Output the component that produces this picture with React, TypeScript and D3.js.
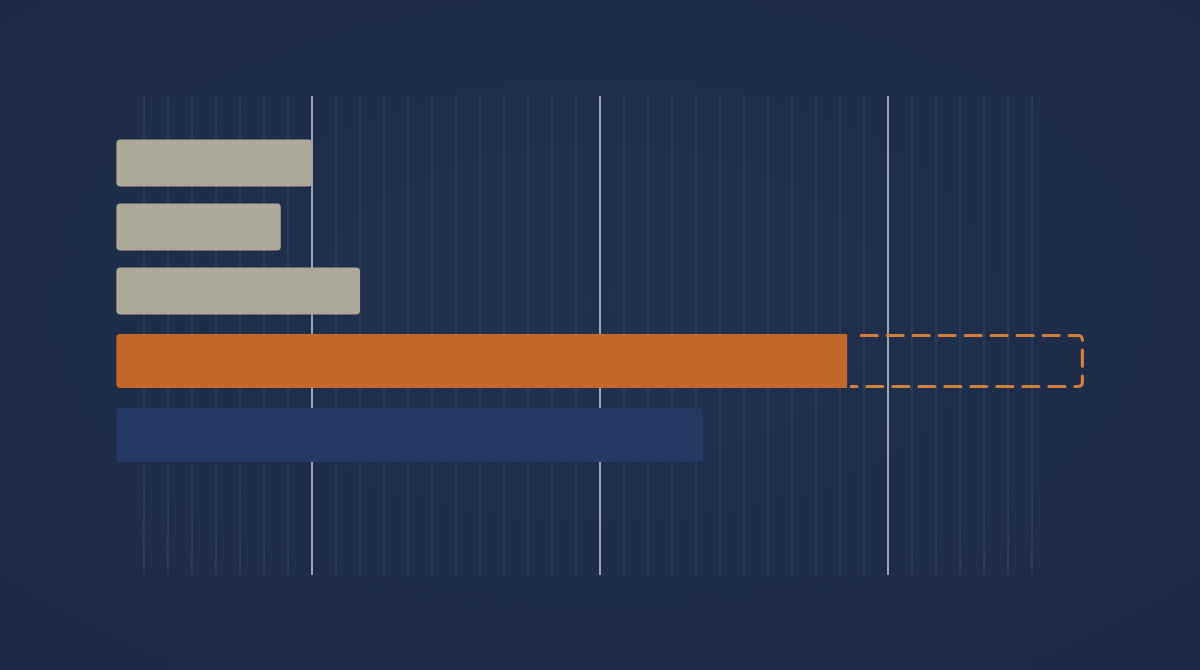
import React from 'react';
import * as d3 from 'd3';

// Time axis in months, grid every month, heavy line every year
const gridMonths = d3.range(5, 43);
const yearMarks = [12, 24, 36];

// Reference rows (gray)
const refLabels = ['Baseline A', 'Baseline B', 'Baseline C'];
const refStart = [3.85, 3.85, 3.85];
const refEnd = [12.0, 10.7, 14.0];

// Focus rows: actual (orange, with projected extension) and comparison (blue)
const focusLabels = ['Actual', 'Comparison'];
const focusStart = [3.85, 3.85];
const focusEnd = [34.3, 28.3];
const projectedEnd = 44.1;

const W = 1200;
const H = 670;

const App: React.FC = () => {
  const x = d3.scaleLinear().domain([0, 48]).range([24, 1176]);

  const yRef = d3.scaleBand<string>()
    .domain(refLabels)
    .range([131, 323])
    .paddingInner(0.266)
    .paddingOuter(0.133);

  const yFocus = d3.scaleBand<string>()
    .domain(focusLabels)
    .range([324, 472])
    .paddingInner(0.27)
    .paddingOuter(0.135);

  const gridTop = 96;
  const gridBottom = 575;

  // bar with rounded left side, square right side
  const leftRounded = (x0: number, x1: number, y0: number, h: number, r: number) => {
    const p = d3.path();
    p.moveTo(x0 + r, y0);
    p.lineTo(x1, y0);
    p.lineTo(x1, y0 + h);
    p.lineTo(x0 + r, y0 + h);
    p.arcTo(x0, y0 + h, x0, y0 + h - r, r);
    p.lineTo(x0, y0 + r);
    p.arcTo(x0, y0, x0 + r, y0, r);
    p.closePath();
    return p.toString();
  };

  // open outline (no left side) for the projected part
  const openOutline = (x0: number, x1: number, y0: number, y1: number, r: number) => {
    const p = d3.path();
    p.moveTo(x0, y0);
    p.lineTo(x1 - r, y0);
    p.arcTo(x1, y0, x1, y0 + r, r);
    p.lineTo(x1, y1 - r);
    p.arcTo(x1, y1, x1 - r, y1, r);
    p.lineTo(x0, y1);
    return p.toString();
  };

  const orangeY = yFocus(focusLabels[0]) || 0;
  const bwF = yFocus.bandwidth();

  return (
    <div style={{ position: 'fixed', left: 0, top: 0, width: W, height: H }}>
      <svg width={W} height={H} style={{ display: 'block' }}>
        <defs>
          <radialGradient id="bgGrad" cx="50%" cy="45%" r="75%">
            <stop offset="0%" stopColor="#20304f" />
            <stop offset="100%" stopColor="#1d2a44" />
          </radialGradient>
        </defs>
        <rect width={W} height={H} fill="url(#bgGrad)" />

        {/* minor grid */}
        <g>
          {gridMonths.filter(m => !yearMarks.includes(m)).map(m => (
            <line key={m} x1={x(m)} x2={x(m)} y1={gridTop} y2={gridBottom}
              stroke="#3b4b6b" strokeWidth={1} />
          ))}
        </g>
        {/* major grid */}
        <g>
          {yearMarks.map(m => (
            <line key={m} x1={x(m)} x2={x(m)} y1={gridTop} y2={gridBottom}
              stroke="#c9cdd6" strokeWidth={1.5} />
          ))}
        </g>

        {/* reference bars */}
        <g>
          {refLabels.map((l, i) => (
            <rect key={l}
              x={x(refStart[i])} y={yRef(l)}
              width={x(refEnd[i]) - x(refStart[i])} height={yRef.bandwidth()}
              rx={4} fill="#aeaa9a" />
          ))}
        </g>

        {/* projected extension */}
        <path
          d={openOutline(x(focusEnd[0]) + 4, x(projectedEnd), orangeY + 1.5, orangeY + bwF - 1.5, 4)}
          fill="none" stroke="#d07f3c" strokeWidth={3.2}
          strokeDasharray="16 10" strokeDashoffset={16} strokeLinecap="round" />

        {/* actual */}
        <path d={leftRounded(x(focusStart[0]), x(focusEnd[0]), orangeY, bwF, 4)} fill="#c4672a" />

        {/* comparison */}
        <rect
          x={x(focusStart[1])} y={yFocus(focusLabels[1])}
          width={x(focusEnd[1]) - x(focusStart[1])} height={bwF}
          rx={4} fill="#243a65" />
      </svg>
    </div>
  );
};

export default App;
